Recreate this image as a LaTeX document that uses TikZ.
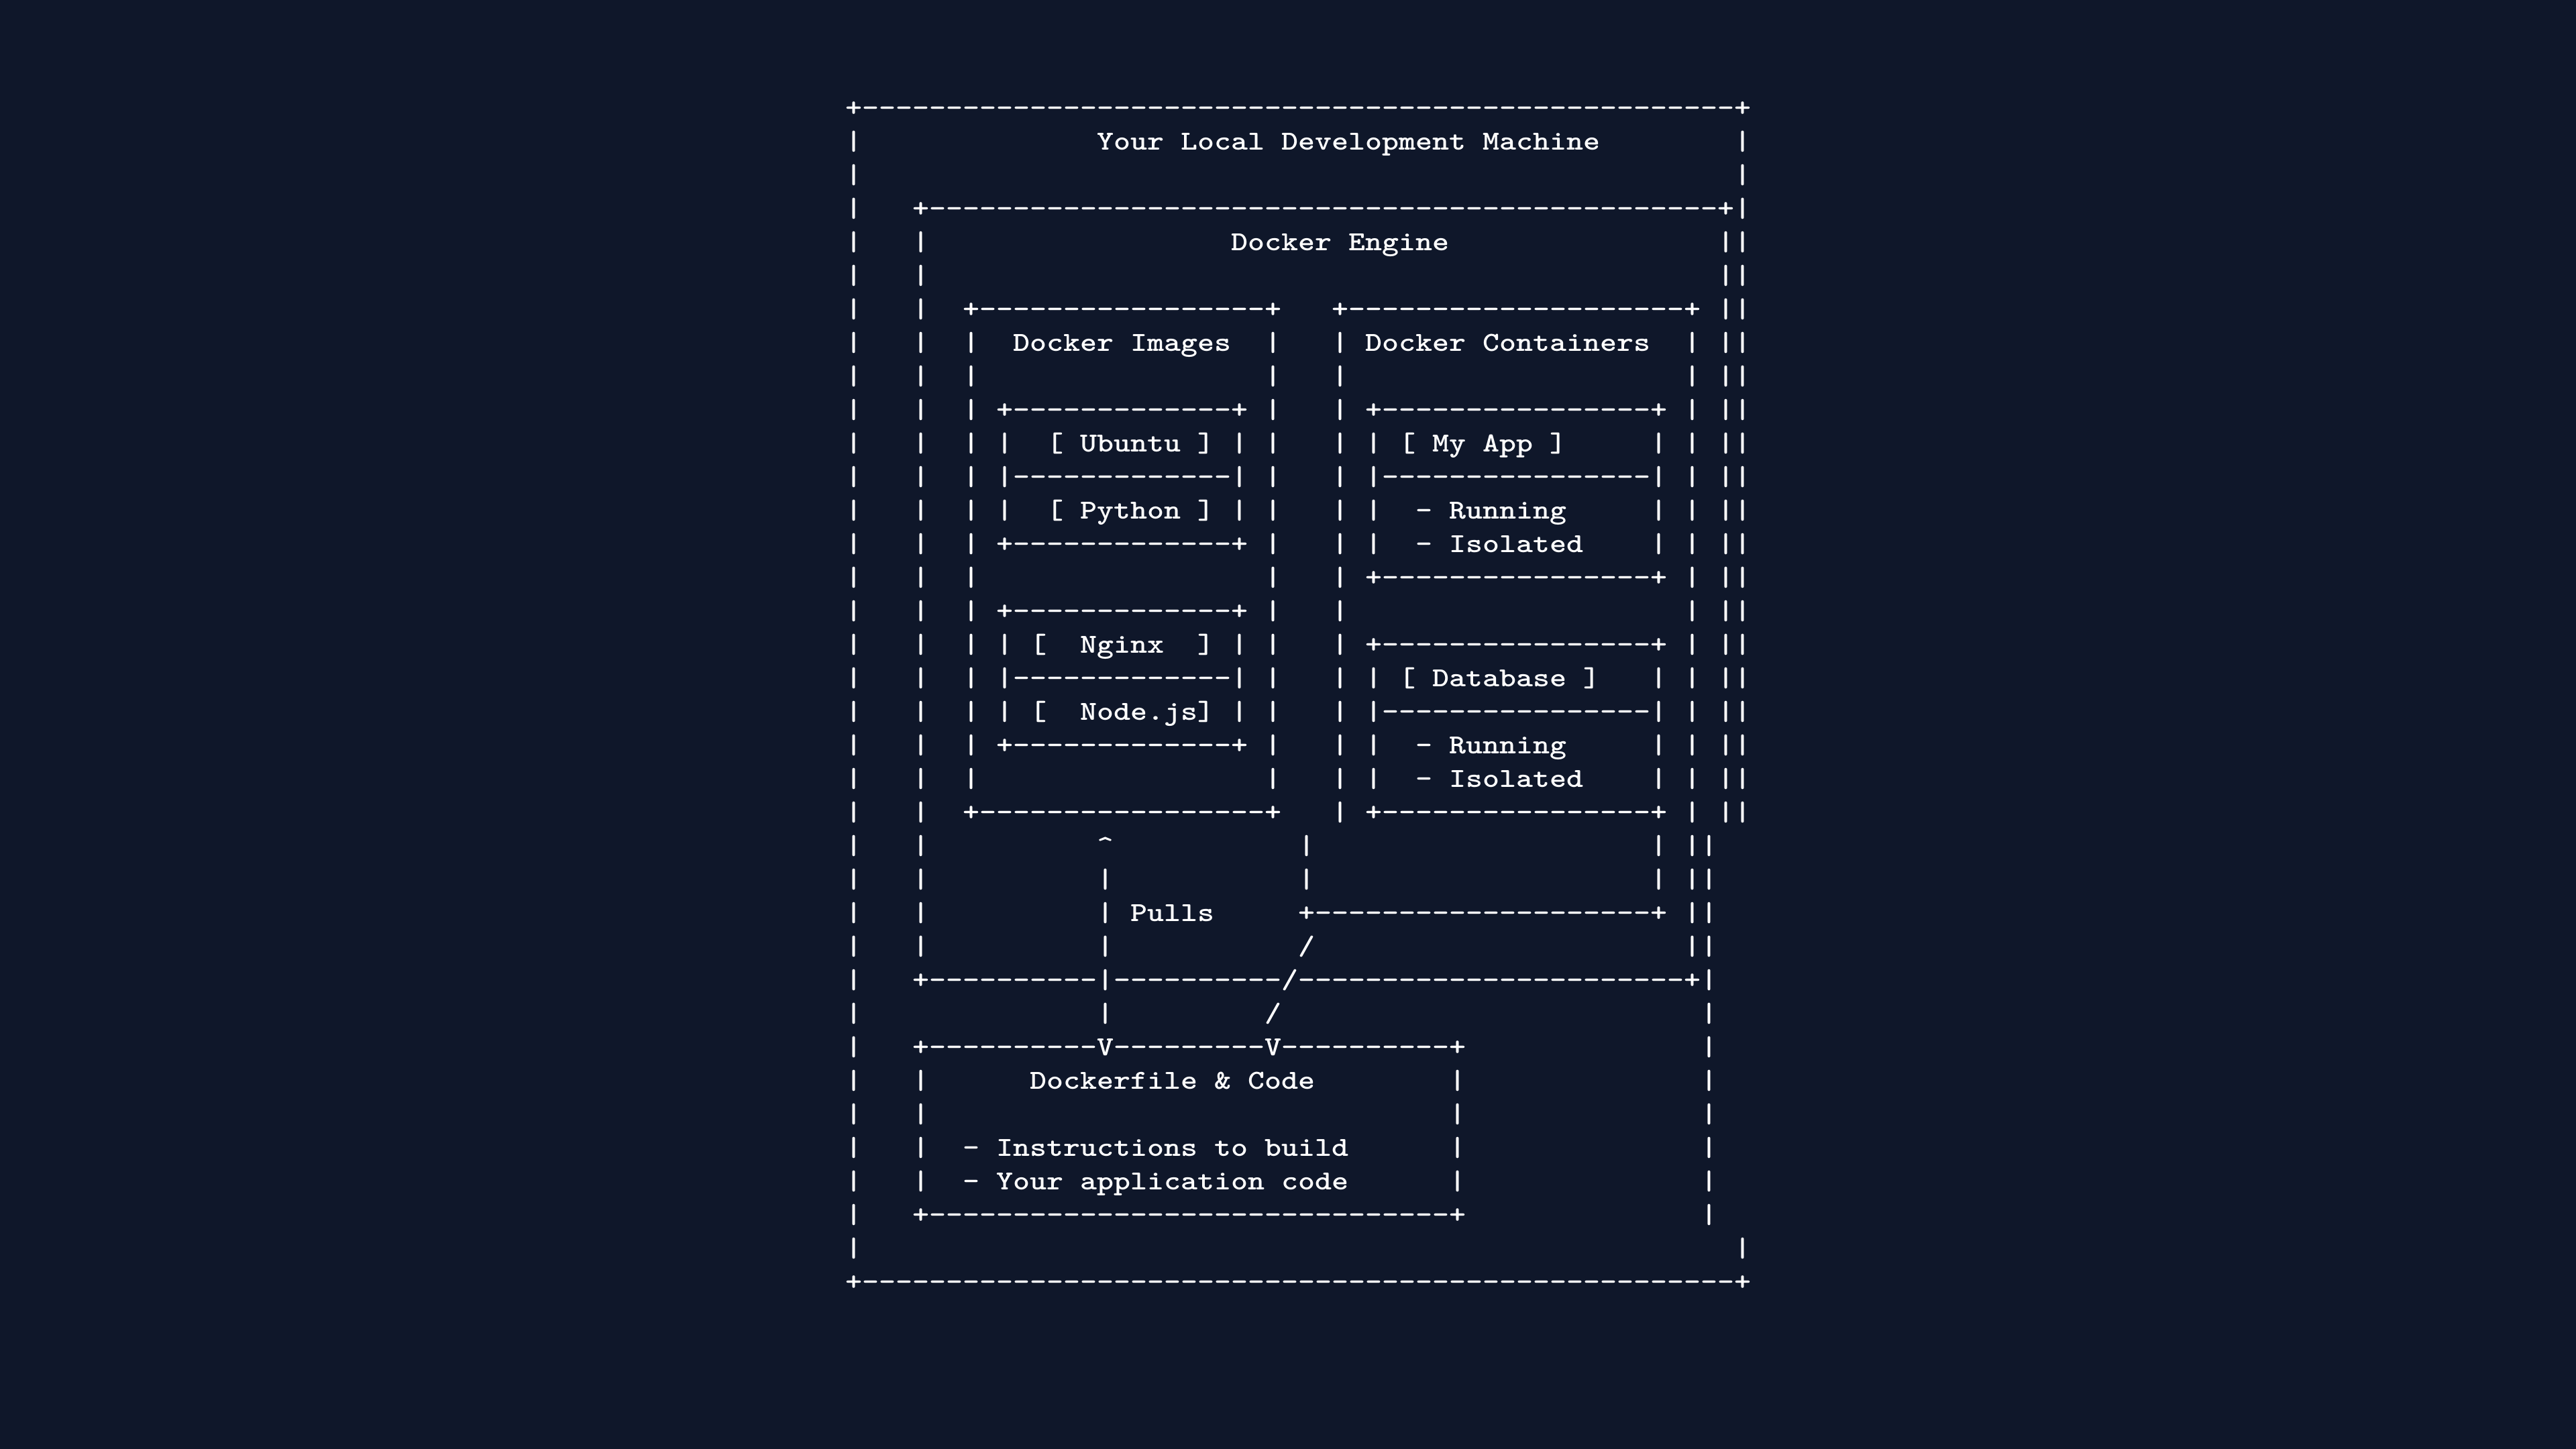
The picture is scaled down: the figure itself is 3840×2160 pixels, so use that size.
\documentclass[tikz,border=0pt]{standalone}
\usepackage{graphicx}
\definecolor{bg}{HTML}{0F172A}
\definecolor{fg}{HTML}{FFFFFF}
\newlength\artcw
\setlength\artcw{6.25pt}
\newcommand\artsx{1.164}
\newcommand\artfont{\ttfamily\bfseries\fontsize{10.225pt}{12.5pt}\selectfont}
\newcommand\artcell[1]{\hbox to\artcw{\hss\scalebox{\artsx}[1]{#1}\hss}}
\newcommand\artS[1]{\hbox to #1\artcw{}}
\newcount\artk
\newcommand\artD[1]{\artk=#1\relax\artdashloop}
\def\artdashloop{\ifnum\artk>0 \artcell{-}\advance\artk by -1 \expandafter\artdashloop\fi}
\newcommand\artT[1]{\artloop#1\relax}
\def\artloop#1{\ifx\relax#1\else\artcell{#1}\expandafter\artloop\fi}
\tikzset{artrow/.style={anchor=base west, inner sep=0pt, outer sep=0pt, text=fg, font=\artfont}}
\begin{document}
\begin{tikzpicture}[x=0.25pt,y=0.25pt]
\useasboundingbox (0,0) rectangle (3840,2160);
\fill[bg] (0,0) rectangle (3840,2160);
\node[artrow] (r0) at (1260.5,1986.7) {\artT{+}\artD{52}\artT{+}};
\node[artrow] (r1) at (1260.5,1936.7) {\artT{|}\artS{14}\artT{Your~Local~Development~Machine}\artS{8}\artT{|}};
\node[artrow] (r2) at (1260.5,1886.7) {\artT{|}\artS{52}\artT{|}};
\node[artrow] (r3) at (1260.5,1836.7) {\artT{|}\artS{3}\artT{+}\artD{47}\artT{+|}};
\node[artrow] (r4) at (1260.5,1786.7) {\artT{|}\artS{3}\artT{|}\artS{18}\artT{Docker~Engine}\artS{16}\artT{||}};
\node[artrow] (r5) at (1260.5,1736.7) {\artT{|}\artS{3}\artT{|}\artS{47}\artT{||}};
\node[artrow] (r6) at (1260.5,1686.7) {\artT{|}\artS{3}\artT{|}\artS{2}\artT{+}\artD{17}\artT{+}\artS{3}\artT{+}\artD{20}\artT{+~||}};
\node[artrow] (r7) at (1260.5,1636.7) {\artT{|}\artS{3}\artT{|}\artS{2}\artT{|~~Docker~Images~~|}\artS{3}\artT{|~Docker~Containers~~|~||}};
\node[artrow] (r8) at (1260.5,1586.7) {\artT{|}\artS{3}\artT{|}\artS{2}\artT{|}\artS{17}\artT{|}\artS{3}\artT{|}\artS{20}\artT{|~||}};
\node[artrow] (r9) at (1260.5,1536.7) {\artT{|}\artS{3}\artT{|}\artS{2}\artT{|~+}\artD{13}\artT{+~|}\artS{3}\artT{|~+}\artD{16}\artT{+~|~||}};
\node[artrow] (r10) at (1260.5,1486.7) {\artT{|}\artS{3}\artT{|}\artS{2}\artT{|~|~~[~Ubuntu~]~|~|}\artS{3}\artT{|~|~[~My~App~]}\artS{5}\artT{|~|~||}};
\node[artrow] (r11) at (1260.5,1436.7) {\artT{|}\artS{3}\artT{|}\artS{2}\artT{|~|}\artD{13}\artT{|~|}\artS{3}\artT{|~|}\artD{16}\artT{|~|~||}};
\node[artrow] (r12) at (1260.5,1386.7) {\artT{|}\artS{3}\artT{|}\artS{2}\artT{|~|~~[~Python~]~|~|}\artS{3}\artT{|~|~~-~Running}\artS{5}\artT{|~|~||}};
\node[artrow] (r13) at (1260.5,1336.7) {\artT{|}\artS{3}\artT{|}\artS{2}\artT{|~+}\artD{13}\artT{+~|}\artS{3}\artT{|~|~~-~Isolated}\artS{4}\artT{|~|~||}};
\node[artrow] (r14) at (1260.5,1286.7) {\artT{|}\artS{3}\artT{|}\artS{2}\artT{|}\artS{17}\artT{|}\artS{3}\artT{|~+}\artD{16}\artT{+~|~||}};
\node[artrow] (r15) at (1260.5,1236.7) {\artT{|}\artS{3}\artT{|}\artS{2}\artT{|~+}\artD{13}\artT{+~|}\artS{3}\artT{|}\artS{20}\artT{|~||}};
\node[artrow] (r16) at (1260.5,1186.7) {\artT{|}\artS{3}\artT{|}\artS{2}\artT{|~|~[~~Nginx~~]~|~|}\artS{3}\artT{|~+}\artD{16}\artT{+~|~||}};
\node[artrow] (r17) at (1260.5,1136.7) {\artT{|}\artS{3}\artT{|}\artS{2}\artT{|~|}\artD{13}\artT{|~|}\artS{3}\artT{|~|~[~Database~]}\artS{3}\artT{|~|~||}};
\node[artrow] (r18) at (1260.5,1086.7) {\artT{|}\artS{3}\artT{|}\artS{2}\artT{|~|~[~~Node.js]~|~|}\artS{3}\artT{|~|}\artD{16}\artT{|~|~||}};
\node[artrow] (r19) at (1260.5,1036.7) {\artT{|}\artS{3}\artT{|}\artS{2}\artT{|~+}\artD{13}\artT{+~|}\artS{3}\artT{|~|~~-~Running}\artS{5}\artT{|~|~||}};
\node[artrow] (r20) at (1260.5,986.7) {\artT{|}\artS{3}\artT{|}\artS{2}\artT{|}\artS{17}\artT{|}\artS{3}\artT{|~|~~-~Isolated}\artS{4}\artT{|~|~||}};
\node[artrow] (r21) at (1260.5,936.7) {\artT{|}\artS{3}\artT{|}\artS{2}\artT{+}\artD{17}\artT{+}\artS{3}\artT{|~+}\artD{16}\artT{+~|~||}};
\node[artrow] (r22) at (1260.5,886.7) {\artT{|}\artS{3}\artT{|}\artS{10}\artT{\textasciicircum}\artS{11}\artT{|}\artS{20}\artT{|~||}};
\node[artrow] (r23) at (1260.5,836.7) {\artT{|}\artS{3}\artT{|}\artS{10}\artT{|}\artS{11}\artT{|}\artS{20}\artT{|~||}};
\node[artrow] (r24) at (1260.5,786.7) {\artT{|}\artS{3}\artT{|}\artS{10}\artT{|~Pulls}\artS{5}\artT{+}\artD{20}\artT{+~||}};
\node[artrow] (r25) at (1260.5,736.7) {\artT{|}\artS{3}\artT{|}\artS{10}\artT{|}\artS{11}\artT{/}\artS{22}\artT{||}};
\node[artrow] (r26) at (1260.5,686.7) {\artT{|}\artS{3}\artT{+}\artD{10}\artT{|}\artD{10}\artT{/}\artD{23}\artT{+|}};
\node[artrow] (r27) at (1260.5,636.7) {\artT{|}\artS{14}\artT{|}\artS{9}\artT{/}\artS{25}\artT{|}};
\node[artrow] (r28) at (1260.5,586.7) {\artT{|}\artS{3}\artT{+}\artD{10}\artT{V}\artD{9}\artT{V}\artD{10}\artT{+}\artS{14}\artT{|}};
\node[artrow] (r29) at (1260.5,536.7) {\artT{|}\artS{3}\artT{|}\artS{6}\artT{Dockerfile~\&~Code}\artS{8}\artT{|}\artS{14}\artT{|}};
\node[artrow] (r30) at (1260.5,486.7) {\artT{|}\artS{3}\artT{|}\artS{31}\artT{|}\artS{14}\artT{|}};
\node[artrow] (r31) at (1260.5,436.7) {\artT{|}\artS{3}\artT{|}\artS{2}\artT{-~Instructions~to~build}\artS{6}\artT{|}\artS{14}\artT{|}};
\node[artrow] (r32) at (1260.5,386.7) {\artT{|}\artS{3}\artT{|}\artS{2}\artT{-~Your~application~code}\artS{6}\artT{|}\artS{14}\artT{|}};
\node[artrow] (r33) at (1260.5,336.7) {\artT{|}\artS{3}\artT{+}\artD{31}\artT{+}\artS{14}\artT{|}};
\node[artrow] (r34) at (1260.5,286.7) {\artT{|}\artS{52}\artT{|}};
\node[artrow] (r35) at (1260.5,236.7) {\artT{+}\artD{52}\artT{+}};
\end{tikzpicture}
\end{document}
